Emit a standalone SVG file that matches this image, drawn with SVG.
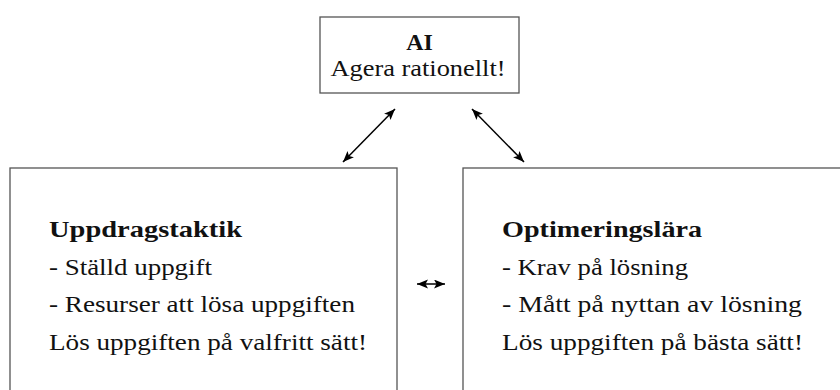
<svg xmlns="http://www.w3.org/2000/svg" width="840" height="390" viewBox="0 0 840 390">
  <style>
    .box { fill: #ffffff; stroke: #555555; stroke-width: 1.3; }
    .t { font-family: "Liberation Serif", "Times New Roman", serif; font-size: 24px; fill: #111111; }
    .b { font-weight: bold; }
    .conn { stroke: #000000; stroke-width: 1.5; fill: none; marker-start: url(#ah); marker-end: url(#ah); }
  </style>
  <defs>
    <marker id="ah" markerUnits="userSpaceOnUse" markerWidth="12" markerHeight="10" refX="11" refY="4.5" orient="auto-start-reverse">
      <path d="M0,0 L11,4.5 L0,9 L2.5,4.5 z" fill="#000000"/>
    </marker>
  </defs>
  <rect width="840" height="390" fill="#ffffff"/>
  <g id="node-ai">
    <rect class="box" x="320" y="17" width="199" height="76"/>
    <text class="t b" x="419.5" y="50" text-anchor="middle">AI</text>
    <text class="t" x="418" y="76" text-anchor="middle" textLength="175" lengthAdjust="spacingAndGlyphs">Agera rationellt!</text>
  </g>
  <g id="node-uppdragstaktik">
    <rect class="box" x="10" y="168" width="387" height="240"/>
    <text class="t b" x="49" y="237" textLength="193" lengthAdjust="spacingAndGlyphs">Uppdragstaktik</text>
    <text class="t" x="49" y="275" textLength="163" lengthAdjust="spacingAndGlyphs">- Ställd uppgift</text>
    <text class="t" x="49" y="312" textLength="306" lengthAdjust="spacingAndGlyphs">- Resurser att lösa uppgiften</text>
    <text class="t" x="49" y="350" textLength="318" lengthAdjust="spacingAndGlyphs">Lös uppgiften på valfritt sätt!</text>
  </g>
  <g id="node-optimeringslara">
    <rect class="box" x="463" y="168" width="400" height="240"/>
    <text class="t b" x="502" y="237" textLength="200" lengthAdjust="spacingAndGlyphs">Optimeringslära</text>
    <text class="t" x="502" y="275" textLength="186" lengthAdjust="spacingAndGlyphs">- Krav på lösning</text>
    <text class="t" x="502" y="312" textLength="300" lengthAdjust="spacingAndGlyphs">- Mått på nyttan av lösning</text>
    <text class="t" x="502" y="350" textLength="301" lengthAdjust="spacingAndGlyphs">Lös uppgiften på bästa sätt!</text>
  </g>
  <g id="connectors">
    <line class="conn" x1="343" y1="162" x2="395" y2="109"/>
    <line class="conn" x1="472" y1="109" x2="524" y2="162"/>
    <line class="conn" x1="417" y1="284" x2="445" y2="284"/>
  </g>
</svg>
